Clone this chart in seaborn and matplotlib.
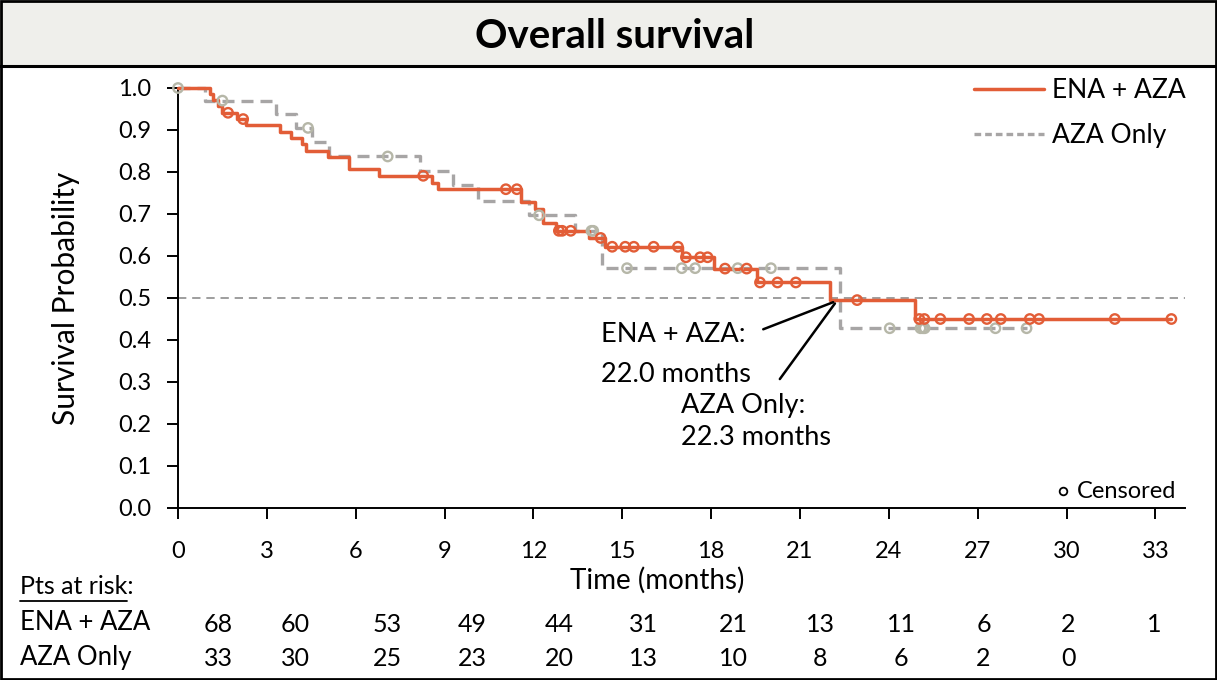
import numpy as np
import pandas as pd
import matplotlib
matplotlib.use("Agg")
import matplotlib.pyplot as plt
import matplotlib.transforms as mtransforms
from matplotlib.lines import Line2D
from matplotlib.patches import Rectangle
import seaborn as sns

# ---------------- data ----------------
ena_t = [0, 1.08, 1.19, 1.36, 1.47, 1.98, 2.31, 3.43, 3.83, 4.20, 4.33, 5.08, 5.79, 6.80,
         8.59, 8.79, 11.57, 12.07, 12.33, 12.75, 13.87, 14.43, 17.01, 18.10, 19.55, 22.00,
         24.90, 33.54]
ena_s = [1.0, 0.985, 0.971, 0.956, 0.941, 0.926, 0.911, 0.896, 0.881, 0.866, 0.851, 0.836,
         0.806, 0.791, 0.775, 0.759, 0.728, 0.711, 0.678, 0.660, 0.643, 0.622, 0.597, 0.570,
         0.537, 0.495, 0.450, 0.450]
ena_cens_t = [1.69, 2.20, 8.28, 11.07, 11.44, 12.86, 12.97, 13.26, 14.27, 14.66, 15.10, 15.39,
              16.06, 16.88, 17.15, 17.63, 17.88, 18.47, 19.20, 19.65, 20.24, 20.86, 22.93,
              25.03, 25.20, 25.74, 26.71, 27.31, 27.78, 28.76, 29.07, 31.63, 33.54]
ena_cens_s = [0.941, 0.926, 0.791, 0.759, 0.759, 0.660, 0.660, 0.660, 0.643, 0.622, 0.622, 0.622,
              0.622, 0.622, 0.597, 0.597, 0.597, 0.570, 0.570, 0.537, 0.537, 0.537, 0.495,
              0.450, 0.450, 0.450, 0.450, 0.450, 0.450, 0.450, 0.450, 0.450, 0.450]

aza_t = [0, 0.91, 3.32, 3.97, 4.54, 5.09, 8.17, 9.29, 10.14, 11.85, 13.40, 14.32, 22.35, 28.65]
aza_s = [1.0, 0.970, 0.939, 0.905, 0.871, 0.837, 0.803, 0.769, 0.732, 0.697, 0.660, 0.571,
         0.428, 0.428]
aza_cens_t = [0.0, 1.50, 4.39, 7.08, 12.19, 13.96, 14.02, 15.16, 17.01, 17.46, 18.90, 20.02,
              24.03, 25.07, 25.15, 25.21, 27.60, 28.65]
aza_cens_s = [1.0, 0.970, 0.905, 0.837, 0.697, 0.660, 0.660, 0.571, 0.571, 0.571, 0.571, 0.571,
              0.428, 0.428, 0.428, 0.428, 0.428, 0.428]

x_ticks = [0, 3, 6, 9, 12, 15, 18, 21, 24, 27, 30, 33]
y_ticks = [0.0, 0.1, 0.2, 0.3, 0.4, 0.5, 0.6, 0.7, 0.8, 0.9, 1.0]
ena_risk = [68, 60, 53, 49, 44, 31, 21, 13, 11, 6, 2, 1]
aza_risk = [33, 30, 25, 23, 20, 13, 10, 8, 6, 2, 0]
series_names = ["ENA + AZA", "AZA Only"]
median_labels = ["ENA + AZA:\n22.0 months", "AZA Only:\n22.3 months"]

# ---------------- layout / style ----------------
W, H = 1217, 680
ORANGE = "#E25D37"
GREY = "#A7A5A5"
GREY_CENS = "#B6B7A8"
risk_x_pos = [1.35, 3.97, 7.07, 9.93, 12.86, 15.72, 18.75, 21.68, 24.41, 27.2, 30.07, 32.96]

sns.set_style("white")
plt.rcParams['font.family'] = ['Lato', 'DejaVu Sans']
plt.rcParams['text.color'] = 'black'

fig = plt.figure(figsize=(W / 100, H / 100), dpi=100)
fig.patch.set_facecolor("white")

def fx(px):
    return px / W

def fy(py):
    return 1 - py / H

ax = fig.add_axes([fx(178), fy(508), fx(1185) - fx(178), fy(88) - fy(508)])

ena_df = pd.DataFrame({"t": ena_t, "s": ena_s})
aza_df = pd.DataFrame({"t": aza_t, "s": aza_s})

# reference line at 0.5
ax.axhline(0.5, color="#8E8E8E", lw=1.2, ls=(0, (5, 3.5)), zorder=1)

sns.lineplot(data=aza_df, x="t", y="s", ax=ax, drawstyle="steps-post", color=GREY,
             lw=2.4, linestyle=(0, (3.6, 2.1)), estimator=None, errorbar=None, sort=False,
             zorder=2, clip_on=False)
sns.lineplot(data=ena_df, x="t", y="s", ax=ax, drawstyle="steps-post", color=ORANGE,
             lw=2.5, estimator=None, errorbar=None, sort=False, zorder=3, clip_on=False)

sns.scatterplot(x=aza_cens_t, y=aza_cens_s, ax=ax, marker="o", s=46, facecolor="none",
                edgecolor=GREY_CENS, linewidth=1.7, zorder=4, clip_on=False)
sns.scatterplot(x=ena_cens_t, y=ena_cens_s, ax=ax, marker="o", s=46, facecolor="none",
                edgecolor=ORANGE, linewidth=1.7, zorder=5, clip_on=False)

ax.set_xlim(0, 34)
ax.set_ylim(0, 1.0)
ax.set_xticks(x_ticks)
ax.set_yticks(y_ticks)
ax.set_yticklabels([f"{v:.1f}" for v in y_ticks])
ax.set_xlabel("")
ax.set_ylabel("")
for sp in ["top", "right"]:
    ax.spines[sp].set_visible(False)
for sp in ["left", "bottom"]:
    ax.spines[sp].set_color("black")
    ax.spines[sp].set_linewidth(1.4)
ax.tick_params(axis="y", direction="out", length=8, width=1.4, pad=11, labelsize=17,
               left=True, colors="black")
ax.tick_params(axis="x", direction="out", length=8, width=1.4, pad=16, labelsize=17,
               bottom=True, colors="black")

# legend
handles = [Line2D([0], [0], color=ORANGE, lw=2.5),
           Line2D([0], [0], color=GREY, lw=2.4, linestyle=(0, (2.0, 1.2)))]
leg = ax.legend(handles, series_names, loc="upper right", bbox_to_anchor=(1.011, 1.048),
                frameon=False, fontsize=19, handlelength=2.65, handletextpad=0.3,
                labelspacing=0.75, borderaxespad=0)

# censored key
ax.plot([0.879], [0.04], transform=ax.transAxes, marker="o", ms=5.5, mfc="none",
        mec="black", mew=1.3, ls="none", clip_on=False)
ax.text(0.893, 0.04, "Censored", transform=ax.transAxes, fontsize=17, va="center", ha="left")

# median annotations
ax.plot([19.76, 22.12], [0.4255, 0.490], color="black", lw=1.8, zorder=6)
ax.plot([20.32, 22.18], [0.307, 0.487], color="black", lw=1.8, zorder=6)
ena_lines = median_labels[0].split("\n")
aza_lines = median_labels[1].split("\n")
ax.text(14.28, 0.412, ena_lines[0], fontsize=19.5, ha="left", va="center")
ax.text(14.28, 0.319, ena_lines[1], fontsize=19.5, ha="left", va="center")
ax.text(16.97, 0.245, aza_lines[0], fontsize=19.5, ha="left", va="center")
ax.text(16.97, 0.169, aza_lines[1], fontsize=19.5, ha="left", va="center")

# axis labels
fig.text(fx(66), fy(298), "Survival Probability", rotation=90, fontsize=21.5,
         ha="center", va="center")
fig.text(fx(657), fy(580), "Time (months)", fontsize=20, ha="center", va="center")

# at-risk table
fig.text(fx(20), fy(587), "Pts at risk:", fontsize=18, ha="left", va="center")
fig.add_artist(Line2D([fx(20), fx(127)], [fy(601), fy(601)], color="black", lw=1.3,
                      transform=fig.transFigure))
fig.text(fx(20), fy(623), series_names[0], fontsize=18.5, ha="left", va="center")
fig.text(fx(20), fy(657), series_names[1], fontsize=18.5, ha="left", va="center")
trans = mtransforms.blended_transform_factory(ax.transData, fig.transFigure)
for xp, v in zip(risk_x_pos, ena_risk):
    ax.text(xp, fy(624), str(v), transform=trans, fontsize=18, ha="center", va="center",
            clip_on=False)
for xp, v in zip(risk_x_pos, aza_risk):
    ax.text(xp, fy(658), str(v), transform=trans, fontsize=18, ha="center", va="center",
            clip_on=False)

# title band and border
fig.add_artist(Rectangle((0, fy(66)), 1, 1 - fy(66), transform=fig.transFigure,
                         facecolor="#EFEFEB", edgecolor="none", zorder=-10))
fig.add_artist(Line2D([0, 1], [fy(66), fy(66)], color="black", lw=2.2,
                      transform=fig.transFigure))
fig.add_artist(Rectangle((0.001, 0.0015), 0.998, 0.997, transform=fig.transFigure,
                         facecolor="none", edgecolor="black", lw=2.0))
fig.text(fx(615), fy(37), "Overall survival", fontsize=29, fontweight="bold",
         ha="center", va="center")

fig.savefig("out.png", dpi=100, facecolor="white")
